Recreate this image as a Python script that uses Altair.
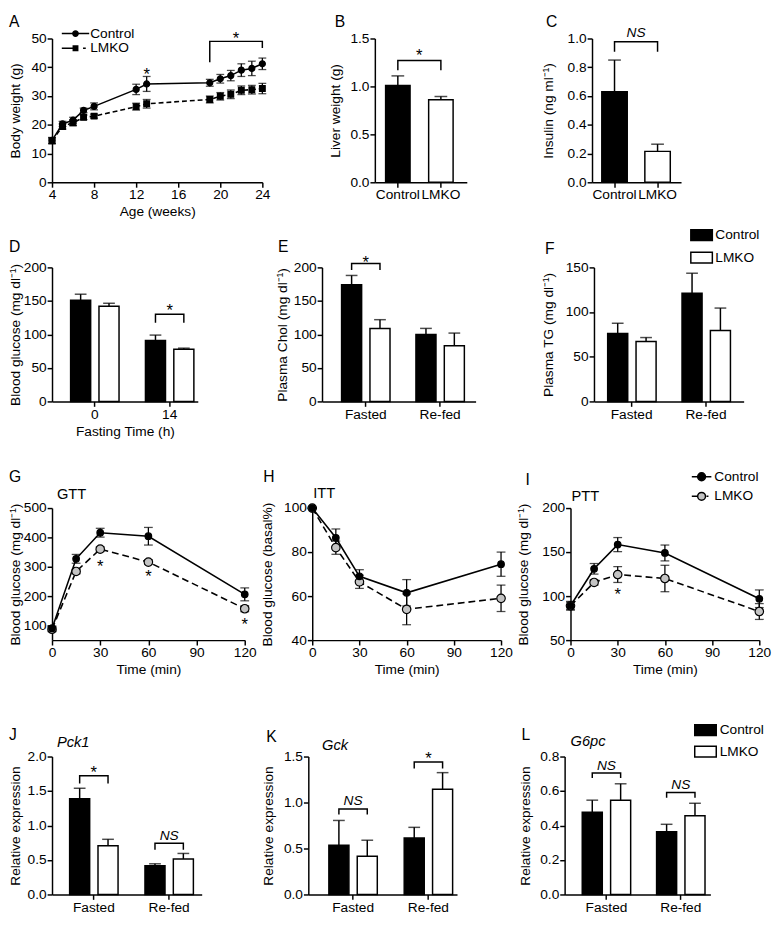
import altair as alt
import pandas as pd

FONT = "Liberation Sans"
SER = ["Control", "LMKO"]

# ---------------- data ----------------
a_weeks = [4, 5, 6, 7, 8, 12, 13, 19, 20, 21, 22, 23, 24]
a_ctrl = [14.6, 20.3, 21.6, 25.0, 26.4, 32.3, 34.2, 34.6, 36.0, 37.1, 39.0, 39.6, 41.2]
a_ctrl_err = [1.0, 0.9, 1.0, 0.8, 1.2, 1.8, 2.6, 1.2, 1.5, 1.8, 2.2, 2.5, 2.0]
a_lmko = [14.4, 19.4, 20.7, 22.6, 23.0, 26.3, 27.3, 28.8, 29.9, 30.6, 32.0, 32.2, 32.6]
a_lmko_err = [1.0, 0.9, 1.0, 0.8, 0.7, 1.2, 1.5, 1.2, 1.3, 1.5, 1.5, 1.5, 1.8]

b_vals = [1.01, 0.86]
b_err = [0.10, 0.035]
c_vals = [0.63, 0.215]
c_err = [0.22, 0.05]

d_groups = ["0", "14"]
d_ctrl = [151, 91]
d_ctrl_err = [9, 8]
d_lmko = [142, 78]
d_lmko_err = [4.5, 1.5]

fed_groups = ["Fasted", "Re-fed"]
e_ctrl = [174, 100]
e_ctrl_err = [14, 9]
e_lmko = [109, 83]
e_lmko_err = [13, 19]
f_ctrl = [76, 121]
f_ctrl_err = [11.5, 22.5]
f_lmko = [67, 79.5]
f_lmko_err = [4.5, 25]

t_min = [0, 15, 30, 60, 120]
g_ctrl = [90, 327, 416, 404, 206]
g_ctrl_err = [8, 15, 15, 30, 22]
g_lmko = [87, 284, 360, 316, 157]
g_lmko_err = [8, 8, 8, 8, 10]
h_ctrl = [100, 86.5, 69, 61.5, 74.5]
h_ctrl_err = [0, 4, 3, 6, 5.5]
h_lmko = [100, 82, 66.5, 54, 59]
h_lmko_err = [0, 3, 3, 7, 6]
i_ctrl = [89, 131, 158.5, 149, 97]
i_ctrl_err = [4, 6, 8, 9, 10]
i_lmko = [89, 115.5, 124.5, 120, 82.5]
i_lmko_err = [5, 3, 9, 15, 9]

j_ctrl = [1.39, 0.415]
j_ctrl_err = [0.15, 0.03]
j_lmko = [0.705, 0.515]
j_lmko_err = [0.095, 0.08]
k_ctrl = [0.535, 0.615]
k_ctrl_err = [0.27, 0.115]
k_lmko = [0.415, 1.145]
k_lmko_err = [0.175, 0.18]
l_ctrl = [0.477, 0.364]
l_ctrl_err = [0.07, 0.043]
l_lmko = [0.547, 0.457]
l_lmko_err = [0.095, 0.072]

# significance brackets: (group, low, top) and labels (group, y)
b_bracket = (1.17, 1.27); b_star = 1.36
c_bracket = (0.907, 0.977); c_ns = 1.035
d_brackets = [("14", 117.6, 130)]; d_stars = [("14", 140.5)]
e_brackets = [("Fasted", 196, 206)]; e_stars = [("Fasted", 212)]
j_brackets = [("Fasted", 1.61, 1.72), ("Re-fed", 0.65, 0.742)]
j_stars = [("Fasted", 1.82)]; j_ns = [("Re-fed", 0.85)]
k_brackets = [("Fasted", 0.87, 0.93), ("Re-fed", 1.37, 1.44)]
k_stars = [("Re-fed", 1.51)]; k_ns = [("Fasted", 1.02)]
l_brackets = [("Fasted", 0.675, 0.704), ("Re-fed", 0.561, 0.592)]
l_ns = [("Fasted", 0.745), ("Re-fed", 0.634)]
a_bracket_x = [19, 19, 24, 24]
a_bracket_y = [41.7, 49, 49, 46.7]
a_stars_x = [21.5, 13]
a_stars_y = [51, 38.7]
g_stars_x = [30, 60, 120]
g_stars_y = [313, 278, 113]
i_stars_x = [30]
i_stars_y = [106]

# ---------------- helpers ----------------
def label(txt, x, y, size=16, italic=False, align="left", baseline="alphabetic"):
    kw = dict(font=FONT, fontSize=size, color="black", align=align, baseline=baseline)
    if italic:
        kw["fontStyle"] = "italic"
    return alt.Chart(pd.DataFrame({"t": [txt]})).mark_text(**kw).encode(
        text="t:N", x=alt.value(x), y=alt.value(y))


def grouped_params(width, first, bar_w, bar_step, group_step, n=2, m=2):
    pio = 1 - bar_w / bar_step
    bw = bar_step * (m - pio)
    pi = 1 - bw / group_step
    po = max(0.0, (width / group_step - n + pi) / 2)
    step = width / (n - pi + 2 * po)
    extra = width - step * (n - pi)
    al = min(1.0, max(0.0, first / extra)) if extra > 0 else 0.5
    return pi, po, al, pio


def single_params(width, first, bar_w, step, n=2):
    pi = 1 - bar_w / step
    po = max(0.0, (width / step - n + pi) / 2)
    s = width / (n - pi + 2 * po)
    extra = width - s * (n - pi)
    al = min(1.0, max(0.0, first / extra)) if extra > 0 else 0.5
    return pi, po, al, s


def yaxis_factory(ydom, yvals, yfmt, ytitle, tx):
    def Yf(f):
        return alt.Y(f, scale=alt.Scale(domain=ydom, nice=False, zero=False),
                     axis=alt.Axis(values=yvals, format=yfmt, title=ytitle, titleX=tx))
    return Yf


def bar_legend(lx, ly, off, rowpad):
    return alt.Legend(title=None, orient="none", legendX=lx, legendY=ly, padding=0,
                      symbolType="M-2,-1L2,-1L2,1L-2,1Z", symbolSize=121,
                      symbolStrokeColor="black", symbolStrokeWidth=1.5,
                      labelOffset=off, rowPadding=rowpad, labelFontSize=14)


def grouped_panel(groups, ctrl, cerr, lmko, lerr, w, h, geom, ydom, yvals, yfmt, ytitle, tx,
                  brackets, stars, ns, annots, xtitle=None, legend=None):
    pi, po, al, pio = grouped_params(w, *geom)
    rows = []
    for s, vals, errs in (("Control", ctrl, cerr), ("LMKO", lmko, lerr)):
        for g, v, e in zip(groups, vals, errs):
            rows.append({"group": g, "series": s, "value": v, "top": v + e})
    df = pd.DataFrame(rows)
    X = alt.X("group:N", sort=groups,
              scale=alt.Scale(paddingInner=pi, paddingOuter=po, align=al),
              axis=alt.Axis(title=xtitle, labelAngle=0, titlePadding=4))
    XO = alt.XOffset("series:N", sort=SER, scale=alt.Scale(paddingInner=pio, paddingOuter=0))
    Yf = yaxis_factory(ydom, yvals, yfmt, ytitle, tx)
    fill = alt.Fill("series:N", scale=alt.Scale(domain=SER, range=["black", "white"]),
                    legend=legend)
    bars = alt.Chart(df).mark_bar(stroke="black", strokeWidth=1.5).encode(
        x=X, xOffset=XO, y=Yf("value:Q"), fill=fill)
    err = alt.Chart(df).mark_rule(color="black", strokeWidth=1.5).encode(
        x=X, xOffset=XO, y=Yf("value:Q"), y2="top:Q")
    cap = alt.Chart(df).mark_tick(color="black", thickness=1.5, size=12).encode(
        x=X, xOffset=XO, y=Yf("top:Q"))
    layers = [bars, err, cap]
    if brackets:
        br = []
        for bid, (g, lo, top) in enumerate(brackets):
            br += [
                {"bid": bid, "group": g, "series": "Control", "y": lo, "o": 0},
                {"bid": bid, "group": g, "series": "Control", "y": top, "o": 1},
                {"bid": bid, "group": g, "series": "LMKO", "y": top, "o": 2},
                {"bid": bid, "group": g, "series": "LMKO", "y": lo, "o": 3},
            ]
        layers.append(alt.Chart(pd.DataFrame(br)).mark_line(color="black", strokeWidth=1.5).encode(
            x=X, xOffset=XO, y=Yf("y:Q"), detail="bid:N", order="o:Q"))
    if stars:
        sdf = pd.DataFrame({"group": [s[0] for s in stars], "y": [s[1] for s in stars], "t": ["*"] * len(stars)})
        layers.append(alt.Chart(sdf).mark_text(font=FONT, fontSize=17, color="black", baseline="middle", dy=4).encode(
            x=X, y=Yf("y:Q"), text="t:N"))
    if ns:
        ndf = pd.DataFrame({"group": [s[0] for s in ns], "y": [s[1] for s in ns], "t": ["NS"] * len(ns)})
        layers.append(alt.Chart(ndf).mark_text(font=FONT, fontSize=14, fontStyle="italic", color="black",
                                               baseline="middle").encode(x=X, y=Yf("y:Q"), text="t:N"))
    layers += list(annots)
    return alt.layer(*layers).properties(width=w, height=h)


def single_panel(vals, errs, w, h, geom, ydom, yvals, yfmt, ytitle, tx, bracket, mark_y, mark_txt, annots):
    pi, po, al, step = single_params(w, *geom)
    df = pd.DataFrame({"series": SER, "value": vals, "top": [v + e for v, e in zip(vals, errs)]})
    X = alt.X("series:N", sort=SER, scale=alt.Scale(paddingInner=pi, paddingOuter=po, align=al),
              axis=alt.Axis(title=None, labelAngle=0))
    Yf = yaxis_factory(ydom, yvals, yfmt, ytitle, tx)
    fill = alt.Fill("series:N", scale=alt.Scale(domain=SER, range=["black", "white"]), legend=None)
    bars = alt.Chart(df).mark_bar(stroke="black", strokeWidth=1.5).encode(x=X, y=Yf("value:Q"), fill=fill)
    err = alt.Chart(df).mark_rule(color="black", strokeWidth=1.5).encode(x=X, y=Yf("value:Q"), y2="top:Q")
    cap = alt.Chart(df).mark_tick(color="black", thickness=1.5, size=13).encode(x=X, y=Yf("top:Q"))
    lo, top = bracket
    bdf = pd.DataFrame({"series": ["Control", "Control", "LMKO", "LMKO"], "y": [lo, top, top, lo], "o": [0, 1, 2, 3]})
    br = alt.Chart(bdf).mark_line(color="black", strokeWidth=1.5).encode(x=X, y=Yf("y:Q"), order="o:Q")
    tdf = pd.DataFrame({"series": ["Control"], "y": [mark_y], "t": [mark_txt]})
    if mark_txt == "*":
        tm = alt.Chart(tdf).mark_text(font=FONT, fontSize=17, color="black", baseline="middle", dy=4, dx=step / 2)
    else:
        tm = alt.Chart(tdf).mark_text(font=FONT, fontSize=14, fontStyle="italic", color="black",
                                      baseline="middle", dx=step / 2)
    txt = tm.encode(x=X, y=Yf("y:Q"), text="t:N")
    return alt.layer(bars, err, cap, br, txt, *annots).properties(width=w, height=h)


def line_panel(xs, ctrl, cerr, lmko, lerr, w, h, xdom, xvals, xtitle, ydom, yvals, ytitle, tx,
               styles, extra, annots):
    X = alt.X("x:Q", scale=alt.Scale(domain=xdom, nice=False, zero=False),
              axis=alt.Axis(values=xvals, title=xtitle, format="d", titlePadding=3))
    Yf = yaxis_factory(ydom, yvals, "d", ytitle, tx)
    lines, errs, pts = [], [], []
    for name, vals, ers in (("LMKO", lmko, lerr), ("Control", ctrl, cerr)):
        st = styles[name]
        df = pd.DataFrame({"x": xs, "y": vals,
                           "lo": [v - e for v, e in zip(vals, ers)],
                           "hi": [v + e for v, e in zip(vals, ers)]})
        lkw = dict(color="black", strokeWidth=1.6)
        if st.get("dash"):
            lkw["strokeDash"] = st["dash"]
        lines.append(alt.Chart(df).mark_line(**lkw).encode(x=X, y=Yf("y:Q")))
        errs.append(alt.Chart(df).mark_rule(color="black", strokeWidth=1.3).encode(
            x=X, y=Yf("lo:Q"), y2="hi:Q"))
        errs.append(alt.Chart(df).transform_fold(["lo", "hi"], as_=["k", "v"]).mark_tick(
            color="black", thickness=1.3, size=st["cap"], orient="horizontal").encode(x=X, y=Yf("v:Q")))
        pts.append(alt.Chart(df).mark_point(filled=True, shape=st["shape"], size=st["size"], fill=st["fill"],
                                            stroke="black", strokeWidth=1.2, opacity=1).encode(x=X, y=Yf("y:Q")))
    layers = lines + errs + pts
    for e in extra:
        layers.append(e(X, Yf))
    layers += list(annots)
    return alt.layer(*layers).properties(width=w, height=h)


def stars_layer(xs, ys):
    def make(X, Yf):
        df = pd.DataFrame({"x": xs, "y": ys, "t": ["*"] * len(xs)})
        return alt.Chart(df).mark_text(font=FONT, fontSize=17, color="black", baseline="middle", dy=4).encode(
            x=X, y=Yf("y:Q"), text="t:N")
    return make


def a_bracket_layer(X, Yf):
    df = pd.DataFrame({"x": a_bracket_x, "y": a_bracket_y, "o": [0, 1, 2, 3]})
    return alt.Chart(df).mark_line(color="black", strokeWidth=1.5).encode(x=X, y=Yf("y:Q"), order="o:Q")


def legend_shape_layer(paths, size, lx, ly, off, rowpad):
    # line + marker symbols drawn as filled paths (black)
    df = pd.DataFrame({"grp": SER})
    leg = alt.Legend(title=None, orient="none", legendX=lx, legendY=ly, padding=0,
                     symbolSize=size, symbolStrokeWidth=1.5,
                     labelOffset=off, rowPadding=rowpad, labelFontSize=14)

    def make(X, Yf):
        return alt.Chart(df).transform_filter("false").mark_point(
            filled=True, color="black", opacity=1).encode(
            shape=alt.Shape("grp:N", scale=alt.Scale(domain=SER, range=paths), legend=leg))
    return make


def legend_disc_layer(path, size, lx, ly, off, rowpad, fills):
    # outlined marker discs overlaid on the line symbols (labels hidden)
    dom = [s + " " for s in SER]
    df = pd.DataFrame({"grp2": dom})
    leg = alt.Legend(title=None, orient="none", legendX=lx, legendY=ly, padding=0,
                     symbolType=path, symbolSize=size, symbolStrokeColor="black", symbolStrokeWidth=1.5,
                     labelOffset=off, rowPadding=rowpad, labelFontSize=14, labelOpacity=0)

    def make(X, Yf):
        return alt.Chart(df).transform_filter("false").mark_bar(stroke="black", strokeWidth=1.2).encode(
            fill=alt.Fill("grp2:N", scale=alt.Scale(domain=dom, range=fills), legend=leg))
    return make


def indep(ch):
    return ch.resolve_scale(fill="independent", shape="independent").resolve_legend(
        fill="independent", shape="independent")


# ---------------- panels ----------------
GLU = "Blood glucose (mg dl\u207b\u00b9)"

A_paths = ["M-2,-0.11L2,-0.11L2,0.11L-2,0.11Z"
           "M0.5,0A0.5,0.5,0,1,1,-0.5,0A0.5,0.5,0,1,1,0.5,0Z",
           "M-2,-0.11L-0.43,-0.11L-0.43,0.11L-2,0.11Z"
           "M1.1,-0.11L1.5,-0.11L1.5,0.11L1.1,0.11Z"
           "M-0.43,-0.43L0.43,-0.43L0.43,0.43L-0.43,0.43Z"]
I_paths = ["M-2,-0.15L2,-0.15L2,0.15L-2,0.15Z",
           "M-2,-0.15L-0.85,-0.15L-0.85,0.15L-2,0.15Z"
           "M1.0,-0.15L1.4,-0.15L1.4,0.15L1.0,0.15Z"]
I_disc = "M0.8,0A0.8,0.8,0,1,1,-0.8,0A0.8,0.8,0,1,1,0.8,0Z"

TX1 = -30  # first-column y-title position
LX1 = -44  # first-column panel letter position

pA = line_panel(a_weeks, a_ctrl, a_ctrl_err, a_lmko, a_lmko_err, 215, 147,
                [4, 24], [4, 8, 12, 16, 20, 24], "Age (weeks)", [0, 50], [0, 10, 20, 30, 40, 50],
                "Body weight (g)", TX1,
                {"Control": {"shape": "circle", "size": 38, "fill": "black", "cap": 8},
                 "LMKO": {"shape": "square", "size": 34, "fill": "black", "cap": 8, "dash": [5, 3]}},
                [a_bracket_layer, stars_layer(a_stars_x, a_stars_y),
                 legend_shape_layer(A_paths, 196, 16, -13, 7, 0)],
                [label("A", LX1, -12)])

pB = single_panel(b_vals, b_err, 94, 147, (11, 25, 44), [0, 1.5], [0, 0.5, 1.0, 1.5], ".1f",
                  "Liver weight (g)", -33, b_bracket, b_star, "*", [label("B", -41, -12)])
pC = single_panel(c_vals, c_err, 91, 147, (10, 26, 44), [0, 1.0], [0, 0.2, 0.4, 0.6, 0.8, 1.0], ".1f",
                  "Insulin (ng ml\u207b\u00b9)", -37, c_bracket, c_ns, "NS", [label("C", -47, -12)])

pD = grouped_panel(d_groups, d_ctrl, d_ctrl_err, d_lmko, d_lmko_err, 149, 137, (19, 20.5, 29, 76.5),
                   [0, 200], [0, 50, 100, 150, 200], "d", GLU, TX1, d_brackets, d_stars, [],
                   [label("D", LX1, -16)], xtitle="Fasting Time (h)")
pE = grouped_panel(fed_groups, e_ctrl, e_ctrl_err, e_lmko, e_lmko_err, 157, 137, (20, 20.5, 29, 76),
                   [0, 200], [0, 50, 100, 150, 200], "d", "Plasma Chol (mg dl\u207b\u00b9)", -33,
                   e_brackets, e_stars, [], [label("E", -45, -16)])
pF = grouped_panel(fed_groups, f_ctrl, f_ctrl_err, f_lmko, f_lmko_err, 153, 137, (14, 21.5, 27.5, 76),
                   [0, 150], [0, 50, 100, 150], "d", "Plasma TG (mg dl\u207b\u00b9)", -39,
                   [], [], [], [label("F", -50, -14)], legend=bar_legend(103, -40, 7, 5))

ln_styles = {"Control": {"shape": "circle", "size": 45, "fill": "black", "cap": 9},
             "LMKO": {"shape": "circle", "size": 75, "fill": "#c4c4c4", "cap": 9, "dash": [7, 4]}}

pG = line_panel(t_min, g_ctrl, g_ctrl_err, g_lmko, g_lmko_err, 197, 135,
                [0, 120], [0, 30, 60, 90, 120], "Time (min)", [50, 500], [100, 200, 300, 400, 500],
                GLU, TX1, ln_styles, [stars_layer(g_stars_x, g_stars_y)],
                [label("G", LX1, -27), label("GTT", 5, -9, size=15)])
pH = line_panel(t_min, h_ctrl, h_ctrl_err, h_lmko, h_lmko_err, 193, 135,
                [0, 120], [0, 30, 60, 90, 120], "Time (min)", [40, 100], [40, 60, 80, 100],
                "Blood glucose (basal%)", -39, ln_styles, [],
                [label("H", -50, -27), label("ITT", 1, -10, size=15)])
pI = line_panel(t_min, i_ctrl, i_ctrl_err, i_lmko, i_lmko_err, 193, 135,
                [0, 120], [0, 30, 60, 90, 120], "Time (min)", [50, 200], [50, 100, 150, 200],
                GLU, -41, ln_styles,
                [stars_layer(i_stars_x, i_stars_y),
                 legend_shape_layer(I_paths, 100, 127, -39, 6, 6),
                 legend_disc_layer(I_disc, 100, 127, -39, 6, 6, ["black", "#c4c4c4"])],
                [label("I", -46, -24), label("PTT", 1, -7, size=15)])

pJ = grouped_panel(fed_groups, j_ctrl, j_ctrl_err, j_lmko, j_lmko_err, 153, 141, (18, 20.5, 29, 77),
                   [0, 2.0], [0, 0.5, 1.0, 1.5, 2.0], ".1f", "Relative expression", TX1,
                   j_brackets, j_stars, j_ns, [label("J", LX1, -17), label("Pck1", 5, -10, size=15, italic=True)])
pK = grouped_panel(fed_groups, k_ctrl, k_ctrl_err, k_lmko, k_lmko_err, 152, 141, (21, 20.5, 29, 77),
                   [0, 1.5], [0, 0.5, 1.0, 1.5], ".1f", "Relative expression", -34,
                   k_brackets, k_stars, k_ns, [label("K", -43, -15), label("Gck", 14, -7, size=15, italic=True)])
pL = grouped_panel(fed_groups, l_ctrl, l_ctrl_err, l_lmko, l_lmko_err, 149, 141, (18, 20.5, 29, 76),
                   [0, 0.8], [0, 0.2, 0.4, 0.6, 0.8], ".1f", "Relative expression", -33,
                   l_brackets, [], l_ns, [label("L", -44, -17), label("G6pc", 6, -11, size=15, italic=True)],
                   legend=bar_legend(137, -34, 7.5, 4))

row1 = indep(alt.hconcat(pA, indep(alt.hconcat(pB, pC, spacing=128, bounds="flush")), spacing=115, bounds="flush"))
row2 = indep(alt.hconcat(pD, indep(alt.hconcat(pE, pF, spacing=121, bounds="flush")), spacing=127, bounds="flush"))
row3 = indep(alt.hconcat(pG, indep(alt.hconcat(pH, pI, spacing=71, bounds="flush")), spacing=69, bounds="flush"))
row4 = indep(alt.hconcat(pJ, indep(alt.hconcat(pK, pL, spacing=110, bounds="flush")), spacing=109, bounds="flush"))

chart = indep(alt.vconcat(
    indep(alt.vconcat(row1, row2, spacing=10)),
    indep(alt.vconcat(row3, row4, spacing=48)),
    spacing=31,
)).properties(
    padding={"left": 0, "top": -4, "right": 2, "bottom": 0}
).configure_view(stroke=None).configure_axis(
    domainColor="black", domainWidth=1.5, tickColor="black", tickWidth=1.5, tickSize=5,
    labelColor="black", labelFont=FONT, labelFontSize=14, labelPadding=1, labelFlush=False,
    titleFont=FONT, titleFontSize=14, titleFontWeight="normal", titleColor="black", grid=False,
).configure_legend(labelFont=FONT, labelColor="black", labelFontSize=14)

chart.save("out.html", embed_options={"renderer": "svg", "actions": False})
